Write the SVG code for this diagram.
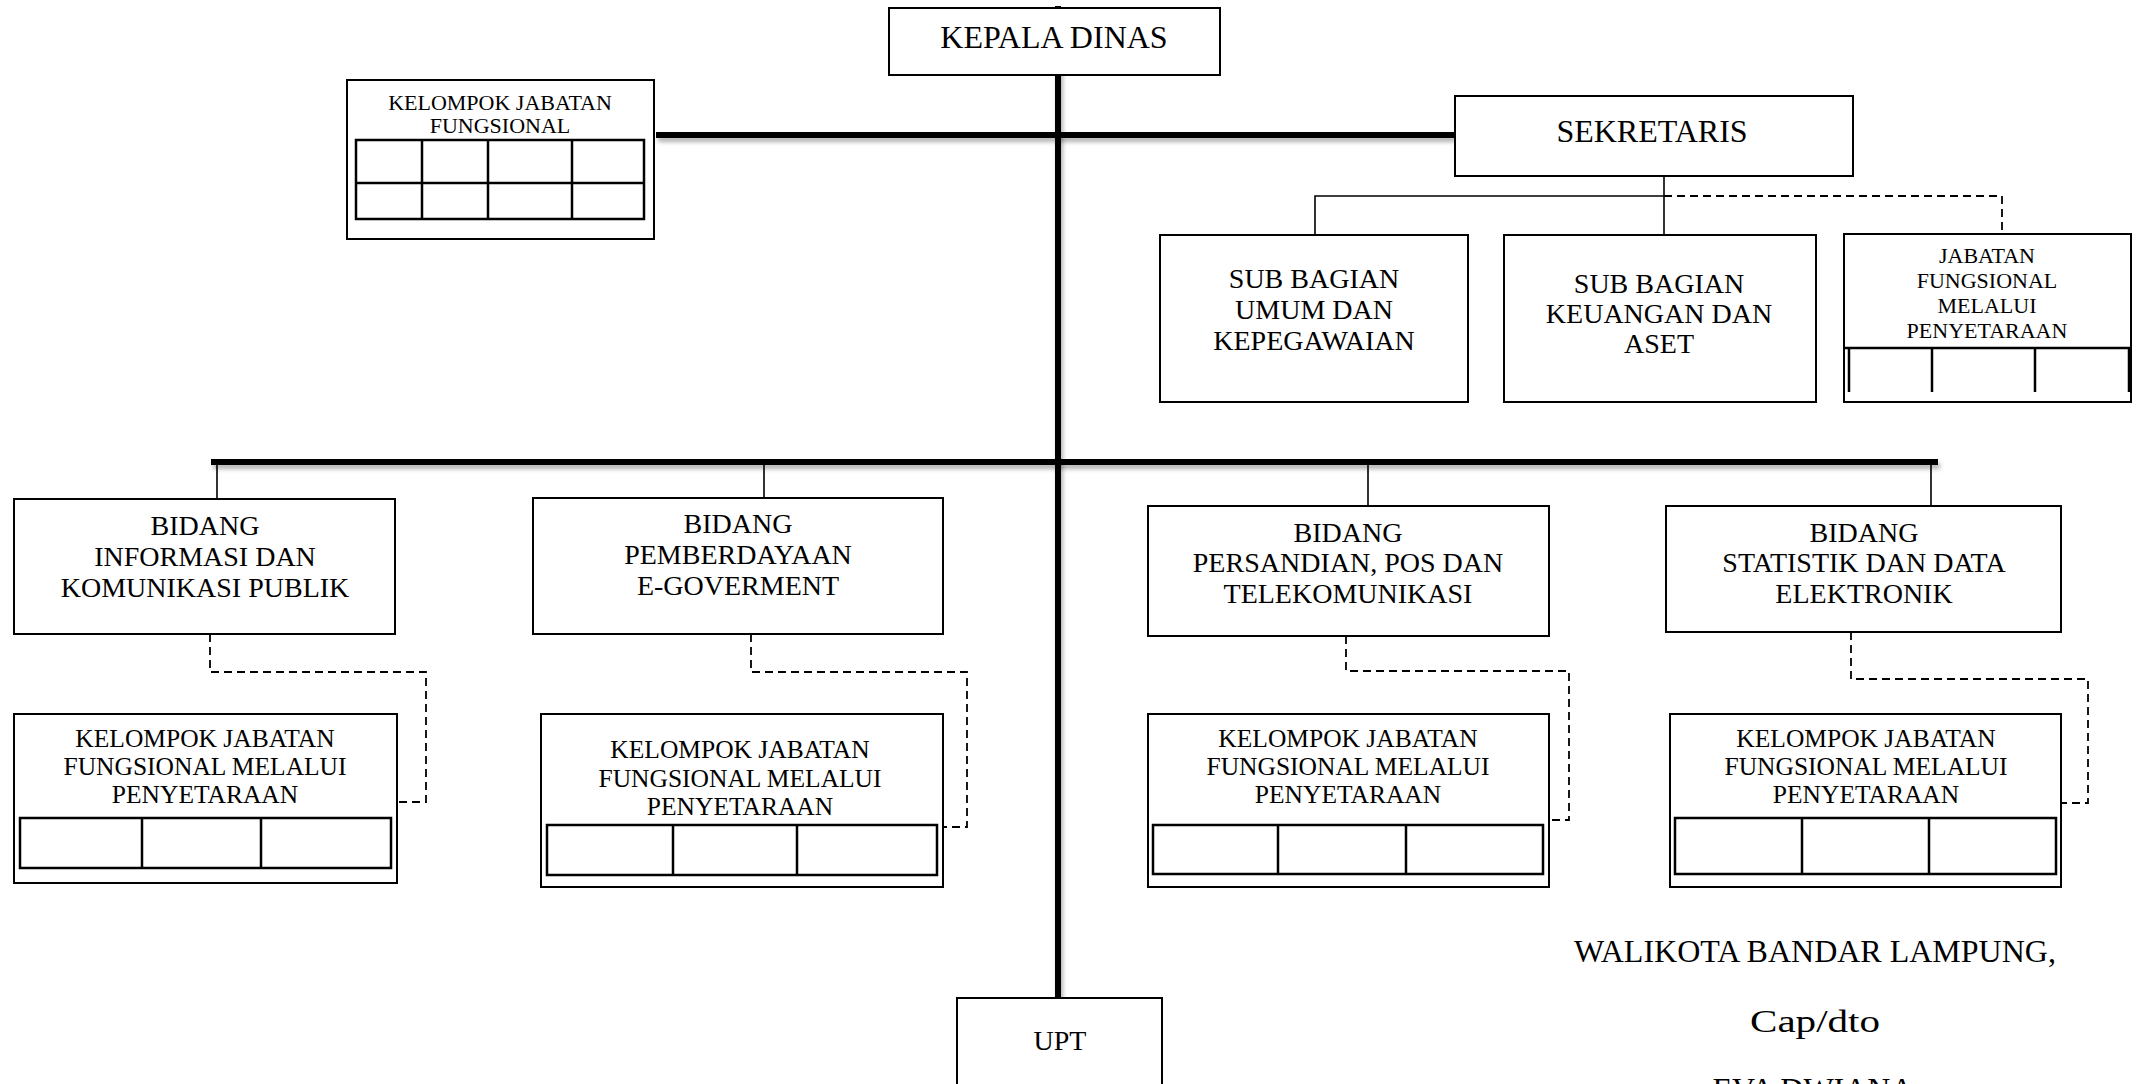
<svg xmlns="http://www.w3.org/2000/svg" width="2136" height="1084" viewBox="0 0 2136 1084">
<style>
text{font-family:"Liberation Serif","Times New Roman",serif;fill:#000;text-anchor:middle}
.box{fill:#fff;stroke:#000;stroke-width:2}
.tbl{fill:none;stroke:#000;stroke-width:2.5}
.thick{stroke:#000;stroke-width:6;fill:none}
.thin{stroke:#000;stroke-width:1.6;fill:none}
.dash{stroke:#000;stroke-width:1.8;fill:none;stroke-dasharray:8 5}
.f22{font-size:22px}.f25{font-size:25.5px}.f28{font-size:28px}.f32{font-size:32px}
</style>
<defs>
<filter id="sh" filterUnits="userSpaceOnUse" x="0" y="0" width="2136" height="1084">
<feDropShadow dx="2" dy="4" stdDeviation="2" flood-color="#000" flood-opacity="0.3"/>
</filter>
</defs>
<rect width="2136" height="1084" fill="#fff"/>
<g id="connectors">
<line class="thick" x1="1058" y1="6" x2="1058" y2="997" filter="url(#sh)"/>
<line class="thick" x1="656" y1="135" x2="1454" y2="135" filter="url(#sh)"/>
<line class="thick" x1="211" y1="462" x2="1938" y2="462" filter="url(#sh)"/>
<path class="thin" d="M217 462V499M764 462V498M1368 462V506M1931 462V506"/>
<path class="thin" d="M1664 176V234M1315 235V196H1664"/>
<path class="dash" d="M1664 196H2002V234"/>
<path class="dash" d="M210 634V672H426V802H397"/>
<path class="dash" d="M751 634V672H967V827H943"/>
<path class="dash" d="M1346 636V671H1569V820H1549"/>
<path class="dash" d="M1851 632V679H2088V803H2061"/>
</g>
<g id="kepala-dinas">
<rect class="box" x="889" y="8" width="331" height="67"/>
<text class="f32" x="1054" y="48">KEPALA DINAS</text>
</g>
<g id="kelompok-jabatan-fungsional">
<rect class="box" x="347" y="80" width="307" height="159"/>
<text class="f22" x="500"><tspan x="500" y="110">KELOMPOK JABATAN</tspan><tspan x="500" y="133">FUNGSIONAL</tspan></text>
<path class="tbl" d="M356 140H644V219H356ZM356 183H644M422 140V219M488 140V219M572 140V219"/>
</g>
<g id="sekretaris">
<rect class="box" x="1455" y="96" width="398" height="80"/>
<text class="f32" x="1652" y="142">SEKRETARIS</text>
</g>
<g id="sub-bagian-umum">
<rect class="box" x="1160" y="235" width="308" height="167"/>
<text class="f28"><tspan x="1314" y="288">SUB BAGIAN</tspan><tspan x="1314" y="319">UMUM DAN</tspan><tspan x="1314" y="350">KEPEGAWAIAN</tspan></text>
</g>
<g id="sub-bagian-keuangan">
<rect class="box" x="1504" y="235" width="312" height="167"/>
<text class="f28"><tspan x="1659" y="293">SUB BAGIAN</tspan><tspan x="1659" y="323">KEUANGAN DAN</tspan><tspan x="1659" y="353">ASET</tspan></text>
</g>
<g id="jabatan-fungsional-sekretariat">
<rect class="box" x="1844" y="234" width="287" height="168"/>
<text class="f22"><tspan x="1987" y="263">JABATAN</tspan><tspan x="1987" y="288">FUNGSIONAL</tspan><tspan x="1987" y="313">MELALUI</tspan><tspan x="1987" y="338">PENYETARAAN</tspan></text>
<path class="tbl" d="M1844 348H2130M1849 348V392M1932 348V392M2035 348V392M2129 348V392"/>
</g>
<g id="bidang-informasi">
<rect class="box" x="14" y="499" width="381" height="135"/>
<text class="f28"><tspan x="205" y="535">BIDANG</tspan><tspan x="205" y="566">INFORMASI DAN</tspan><tspan x="205" y="597">KOMUNIKASI PUBLIK</tspan></text>
</g>
<g id="bidang-pemberdayaan">
<rect class="box" x="533" y="498" width="410" height="136"/>
<text class="f28"><tspan x="738" y="533">BIDANG</tspan><tspan x="738" y="564">PEMBERDAYAAN</tspan><tspan x="738" y="595">E-GOVERMENT</tspan></text>
</g>
<g id="bidang-persandian">
<rect class="box" x="1148" y="506" width="401" height="130"/>
<text class="f28"><tspan x="1348" y="542">BIDANG</tspan><tspan x="1348" y="572">PERSANDIAN, POS DAN</tspan><tspan x="1348" y="603">TELEKOMUNIKASI</tspan></text>
</g>
<g id="bidang-statistik">
<rect class="box" x="1666" y="506" width="395" height="126"/>
<text class="f28"><tspan x="1864" y="542">BIDANG</tspan><tspan x="1864" y="572">STATISTIK DAN DATA</tspan><tspan x="1864" y="603">ELEKTRONIK</tspan></text>
</g>
<g id="kjf-informasi">
<rect class="box" x="14" y="714" width="383" height="169"/>
<text class="f25"><tspan x="205" y="747">KELOMPOK JABATAN</tspan><tspan x="205" y="775">FUNGSIONAL MELALUI</tspan><tspan x="205" y="803">PENYETARAAN</tspan></text>
<path class="tbl" d="M20 818H391V868H20ZM142 818V868M261 818V868"/>
</g>
<g id="kjf-pemberdayaan">
<rect class="box" x="541" y="714" width="402" height="173"/>
<text class="f25"><tspan x="740" y="758">KELOMPOK JABATAN</tspan><tspan x="740" y="787">FUNGSIONAL MELALUI</tspan><tspan x="740" y="815">PENYETARAAN</tspan></text>
<path class="tbl" d="M547 825H937V875H547ZM673 825V875M797 825V875"/>
</g>
<g id="kjf-persandian">
<rect class="box" x="1148" y="714" width="401" height="173"/>
<text class="f25"><tspan x="1348" y="747">KELOMPOK JABATAN</tspan><tspan x="1348" y="775">FUNGSIONAL MELALUI</tspan><tspan x="1348" y="803">PENYETARAAN</tspan></text>
<path class="tbl" d="M1153 825H1543V874H1153ZM1278 825V874M1406 825V874"/>
</g>
<g id="kjf-statistik">
<rect class="box" x="1670" y="714" width="391" height="173"/>
<text class="f25"><tspan x="1866" y="747">KELOMPOK JABATAN</tspan><tspan x="1866" y="775">FUNGSIONAL MELALUI</tspan><tspan x="1866" y="803">PENYETARAAN</tspan></text>
<path class="tbl" d="M1675 818H2056V874H1675ZM1802 818V874M1929 818V874"/>
</g>
<g id="upt">
<rect class="box" x="957" y="998" width="205" height="100"/>
<text class="f28" x="1060" y="1050">UPT</text>
</g>
<g id="signature">
<text class="f32" x="1815" y="962">WALIKOTA BANDAR LAMPUNG,</text>
<text class="f32" x="1815" y="1032" textLength="130" lengthAdjust="spacingAndGlyphs">Cap/dto</text>
<text class="f32" x="1813" y="1100">EVA DWIANA</text>
</g>
</svg>
